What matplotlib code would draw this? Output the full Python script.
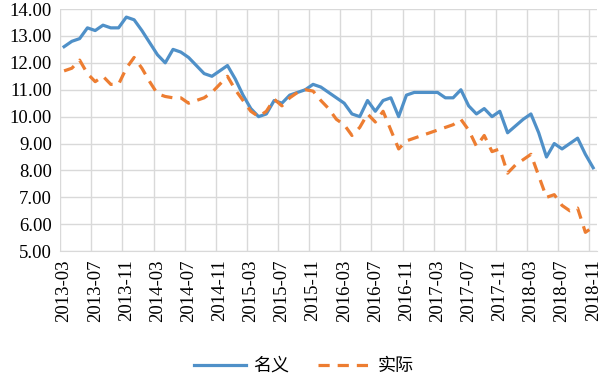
import pandas as pd
import matplotlib
matplotlib.use("Agg")
import matplotlib.pyplot as plt

plt.rcParams["font.family"] = "serif"
plt.rcParams["font.serif"] = ["Liberation Serif", "DejaVu Serif"]

# monthly, 2013-03 .. 2018-11
meses = pd.period_range("2013-03", "2018-11", freq="M").strftime("%Y-%m").tolist()

# 名义
nominal = [12.6, 12.8, 12.9, 13.3, 13.2, 13.4, 13.3, 13.3, 13.7, 13.6,
           13.2, 12.75, 12.3, 12.0, 12.5, 12.4, 12.2, 11.9, 11.6, 11.5,
           11.7, 11.9, 11.4, 10.8, 10.3, 10.0, 10.1, 10.6, 10.5, 10.8,
           10.9, 11.0, 11.2, 11.1, 10.9, 10.7, 10.5, 10.1, 10.0, 10.6,
           10.2, 10.6, 10.7, 10.0, 10.8, 10.9, 10.9, 10.9, 10.9, 10.7,
           10.7, 11.0, 10.4, 10.1, 10.3, 10.0, 10.2, 9.4, 9.65, 9.9,
           10.1, 9.4, 8.5, 9.0, 8.8, 9.0, 9.2, 8.6, 8.1]

# 实际
real = [11.7, 11.8, 12.1, 11.6, 11.3, 11.5, 11.2, 11.2, 11.8, 12.2,
        11.8, 11.3, 10.85, 10.75, 10.7, 10.7, 10.5, 10.6, 10.7, 10.9,
        11.2, 11.5, 11.0, 10.6, 10.2, 10.0, 10.2, 10.65, 10.4, 10.7,
        10.9, 11.0, 10.95, 10.6, 10.3, 9.9, 9.7, 9.3, 9.6, 10.1,
        9.8, 10.2, 9.5, 8.8, 9.1, 9.2, 9.3, 9.4, 9.5, 9.6,
        9.7, 9.9, 9.5, 8.9, 9.3, 8.7, 8.8, 7.9, 8.2, 8.4,
        8.6, 7.8, 7.0, 7.1, 6.7, 6.5, 6.6, 5.7, 5.9]

fig = plt.figure(figsize=(6.08, 3.76), dpi=100)
ax = fig.add_axes([0.099, 0.332, 0.883, 0.644])

x = list(range(len(meses)))
ax.plot(x, nominal, color="#4F90C8", linewidth=2.3, label="名义")
ax.plot(x, real, color="#ED7D31", linewidth=2.3, dashes=(3.5, 2.5), label="实际")

ax.set_xlim(-0.5, len(meses) - 0.5)
ax.set_ylim(5, 14)
ax.set_yticks(range(5, 15))
ax.set_yticklabels([f"{v:.2f}" for v in range(5, 15)], fontsize=13.5)

ax.set_xticks(x[::4])
ax.set_xticklabels(meses[::4], rotation=90, fontsize=13.5)
ax.set_xticks([i - 0.5 for i in x[::4]], minor=True)

ax.tick_params(axis="both", which="both", length=0)
ax.tick_params(axis="y", pad=6)
ax.tick_params(axis="x", pad=6)

ax.grid(True, axis="y", color="#D9D9D9", linewidth=1)
ax.grid(True, axis="x", which="minor", color="#D9D9D9", linewidth=1)
ax.grid(False, axis="x", which="major")

for s in ["top", "right", "left"]:
    ax.spines[s].set_visible(False)
ax.spines["bottom"].set_color("#D9D9D9")

fig.legend(loc="center", bbox_to_anchor=(0.5, 0.027), ncol=2, frameon=False,
           prop={"family": "Noto Sans CJK SC", "size": 13},
           handlelength=2.9, columnspacing=1.6, handletextpad=0.4)

fig.savefig("out.png", dpi=100)
